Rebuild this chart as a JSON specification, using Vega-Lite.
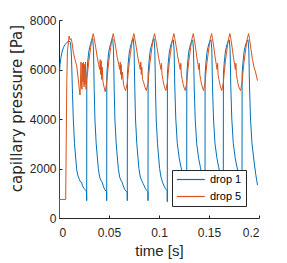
{
  "$schema": "https://vega.github.io/schema/vega-lite/v6.json",
  "width": 200,
  "height": 198,
  "autosize": "none",
  "padding": {"left": 59, "top": 20, "right": 28, "bottom": 45},
  "background": "white",
  "config": {
    "font": "Liberation Sans",
    "view": {"stroke": null},
    "axis": {
      "grid": false,
      "domainColor": "#262626",
      "tickColor": "#262626",
      "labelColor": "#262626",
      "titleColor": "#262626",
      "labelFontSize": 12,
      "titleFontSize": 15,
      "titleFontWeight": "normal",
      "tickSize": -3,
      "domainWidth": 1,
      "tickWidth": 1
    }
  },
  "datasets": {
    "d1": [
      {"t":0,"p":700},{"t":0.0003,"p":5700},{"t":0.001,"p":6200},{"t":0.002,"p":6500},{"t":0.003,"p":6700},{"t":0.0045,"p":6900},{"t":0.006,"p":7000},{"t":0.008,"p":7100},{"t":0.010,"p":7150},{"t":0.0115,"p":7100},{"t":0.0125,"p":6500},{"t":0.0135,"p":5000},{"t":0.0143,"p":4000},{"t":0.0155,"p":3000},{"t":0.0177,"p":1950},{"t":0.019,"p":1700},{"t":0.0205,"p":1550},{"t":0.021,"p":1480},{"t":0.0225,"p":1450},{"t":0.0235,"p":1300},{"t":0.025,"p":1200},{"t":0.027,"p":1100},{"t":0.0275,"p":1050},{"t":0.0277,"p":700},
      {"t":0.0278,"p":5800},{"t":0.0287,"p":6300},{"t":0.0297,"p":6700},{"t":0.0307,"p":6900},{"t":0.0317,"p":7050},{"t":0.0327,"p":7200},{"t":0.0337,"p":7250},{"t":0.0345,"p":6800},{"t":0.0352,"p":5200},{"t":0.0359,"p":4000},{"t":0.0372,"p":3000},{"t":0.0393,"p":2000},{"t":0.0407,"p":1650},{"t":0.0422,"p":1500},{"t":0.0432,"p":1450},{"t":0.0442,"p":1300},{"t":0.0457,"p":1150},{"t":0.0472,"p":1080},{"t":0.0476,"p":1050},{"t":0.0477,"p":700},
      {"t":0.0478,"p":5800},{"t":0.0487,"p":6300},{"t":0.0497,"p":6700},{"t":0.0507,"p":6900},{"t":0.0517,"p":7050},{"t":0.0527,"p":7200},{"t":0.0537,"p":7250},{"t":0.0545,"p":6800},{"t":0.0552,"p":5200},{"t":0.0559,"p":4000},{"t":0.0572,"p":3000},{"t":0.0593,"p":2000},{"t":0.0607,"p":1650},{"t":0.0622,"p":1500},{"t":0.0632,"p":1450},{"t":0.0642,"p":1300},{"t":0.0657,"p":1150},{"t":0.0672,"p":1080},{"t":0.0682,"p":1050},{"t":0.0683,"p":700},
      {"t":0.0684,"p":5800},{"t":0.0693,"p":6300},{"t":0.0703,"p":6700},{"t":0.0713,"p":6900},{"t":0.0723,"p":7050},{"t":0.0733,"p":7200},{"t":0.0743,"p":7250},{"t":0.0751,"p":6800},{"t":0.0758,"p":5200},{"t":0.0765,"p":4000},{"t":0.0778,"p":3000},{"t":0.0799,"p":2000},{"t":0.0813,"p":1650},{"t":0.0828,"p":1500},{"t":0.0840,"p":1400},{"t":0.0852,"p":1300},{"t":0.0865,"p":1180},{"t":0.0880,"p":1100},{"t":0.0889,"p":1060},{"t":0.0890,"p":700},
      {"t":0.0891,"p":5800},{"t":0.0900,"p":6300},{"t":0.0910,"p":6700},{"t":0.0920,"p":6900},{"t":0.0930,"p":7050},{"t":0.0940,"p":7200},{"t":0.0950,"p":7250},{"t":0.0958,"p":6800},{"t":0.0965,"p":5200},{"t":0.0972,"p":4000},{"t":0.0985,"p":3000},{"t":0.1006,"p":2000},{"t":0.1020,"p":1650},{"t":0.1035,"p":1450},{"t":0.1050,"p":1300},{"t":0.1065,"p":1180},{"t":0.1078,"p":1120},{"t":0.1082,"p":1100},{"t":0.1083,"p":660},
      {"t":0.1084,"p":5800},{"t":0.1093,"p":6300},{"t":0.1103,"p":6700},{"t":0.1113,"p":6900},{"t":0.1123,"p":7050},{"t":0.1133,"p":7150},{"t":0.1143,"p":7200},{"t":0.1151,"p":6800},{"t":0.1158,"p":5300},{"t":0.1168,"p":4000},{"t":0.1183,"p":3000},{"t":0.1203,"p":2400},{"t":0.1220,"p":2050},{"t":0.1238,"p":1750},{"t":0.1253,"p":1550},{"t":0.1268,"p":1400},{"t":0.1276,"p":1300},{"t":0.1277,"p":900},
      {"t":0.1278,"p":5800},{"t":0.1287,"p":6300},{"t":0.1297,"p":6700},{"t":0.1307,"p":6900},{"t":0.1317,"p":7050},{"t":0.1327,"p":7150},{"t":0.1337,"p":7200},{"t":0.1345,"p":6800},{"t":0.1352,"p":5300},{"t":0.1362,"p":4000},{"t":0.1377,"p":3000},{"t":0.1397,"p":2400},{"t":0.1414,"p":2050},{"t":0.1430,"p":1750},{"t":0.1445,"p":1550},{"t":0.1459,"p":1400},{"t":0.1460,"p":900},
      {"t":0.1461,"p":5800},{"t":0.1470,"p":6300},{"t":0.1480,"p":6700},{"t":0.1490,"p":6900},{"t":0.1500,"p":7050},{"t":0.1510,"p":7150},{"t":0.1520,"p":7200},{"t":0.1528,"p":6800},{"t":0.1535,"p":5300},{"t":0.1545,"p":4000},{"t":0.1560,"p":3000},{"t":0.1580,"p":2400},{"t":0.1597,"p":2050},{"t":0.1613,"p":1750},{"t":0.1628,"p":1550},{"t":0.1642,"p":1400},{"t":0.1643,"p":900},
      {"t":0.1644,"p":5800},{"t":0.1653,"p":6300},{"t":0.1663,"p":6700},{"t":0.1673,"p":6900},{"t":0.1683,"p":7050},{"t":0.1693,"p":7150},{"t":0.1703,"p":7200},{"t":0.1711,"p":6800},{"t":0.1718,"p":5300},{"t":0.1728,"p":4000},{"t":0.1743,"p":3000},{"t":0.1763,"p":2400},{"t":0.1780,"p":2050},{"t":0.1797,"p":1750},{"t":0.1812,"p":1550},{"t":0.1829,"p":1400},{"t":0.1830,"p":900},
      {"t":0.1831,"p":5800},{"t":0.1840,"p":6300},{"t":0.1850,"p":6700},{"t":0.1860,"p":6900},{"t":0.1870,"p":7050},{"t":0.1880,"p":7150},{"t":0.1890,"p":7200},{"t":0.1898,"p":6800},{"t":0.1905,"p":5300},{"t":0.1915,"p":4000},{"t":0.1930,"p":3000},{"t":0.1950,"p":2300},{"t":0.1968,"p":1750},{"t":0.1985,"p":1330}
    ],
    "d5": [
      {"t":0,"p":0},{"t":0.0002,"p":750},{"t":0.0067,"p":750},{"t":0.0072,"p":3000},{"t":0.0078,"p":5500},{"t":0.0085,"p":6800},{"t":0.0095,"p":7100},{"t":0.010,"p":7350},{"t":0.011,"p":7200},{"t":0.012,"p":7250},{"t":0.013,"p":7100},{"t":0.0143,"p":6700},{"t":0.016,"p":6400},{"t":0.0177,"p":6150},{"t":0.019,"p":5700},{"t":0.020,"p":5300},{"t":0.021,"p":4970},{"t":0.0215,"p":5500},{"t":0.022,"p":6300},{"t":0.0225,"p":5400},{"t":0.023,"p":5200},{"t":0.0235,"p":6250},{"t":0.024,"p":5500},{"t":0.0245,"p":6300},{"t":0.025,"p":5300},{"t":0.0255,"p":6200},{"t":0.026,"p":5400},{"t":0.0265,"p":6300},{"t":0.027,"p":5200},{"t":0.0277,"p":5600},
      {"t":0.0287,"p":5900},{"t":0.0297,"p":6300},{"t":0.0307,"p":6600},{"t":0.0317,"p":6900},{"t":0.0327,"p":7200},{"t":0.0343,"p":7450},{"t":0.0352,"p":7250},{"t":0.0367,"p":6900},{"t":0.0382,"p":6500},{"t":0.0397,"p":6200},{"t":0.0407,"p":6000},{"t":0.0412,"p":6400},{"t":0.0417,"p":5800},{"t":0.0422,"p":6350},{"t":0.0427,"p":5600},{"t":0.0432,"p":6100},{"t":0.0440,"p":5500},{"t":0.0450,"p":5300},{"t":0.0462,"p":5100},{"t":0.0477,"p":5450},
      {"t":0.0487,"p":5900},{"t":0.0497,"p":6300},{"t":0.0507,"p":6600},{"t":0.0517,"p":6900},{"t":0.0527,"p":7200},{"t":0.0543,"p":7450},{"t":0.0552,"p":7250},{"t":0.0567,"p":6900},{"t":0.0582,"p":6500},{"t":0.0597,"p":6200},{"t":0.0607,"p":6000},{"t":0.0612,"p":6300},{"t":0.0617,"p":5800},{"t":0.0622,"p":6200},{"t":0.0627,"p":5600},{"t":0.0635,"p":5900},{"t":0.0645,"p":5400},{"t":0.0655,"p":5250},{"t":0.0666,"p":5150},{"t":0.0683,"p":5450},
      {"t":0.0693,"p":5900},{"t":0.0703,"p":6300},{"t":0.0713,"p":6600},{"t":0.0723,"p":6900},{"t":0.0733,"p":7200},{"t":0.0749,"p":7450},{"t":0.0758,"p":7250},{"t":0.0773,"p":6900},{"t":0.0788,"p":6500},{"t":0.0803,"p":6200},{"t":0.0813,"p":6000},{"t":0.0818,"p":6300},{"t":0.0823,"p":5800},{"t":0.0828,"p":6100},{"t":0.0835,"p":5600},{"t":0.0845,"p":5500},{"t":0.0858,"p":5300},{"t":0.0873,"p":5150},{"t":0.0890,"p":5450},
      {"t":0.0900,"p":5900},{"t":0.0910,"p":6300},{"t":0.0920,"p":6600},{"t":0.0930,"p":6900},{"t":0.0940,"p":7200},{"t":0.0956,"p":7450},{"t":0.0965,"p":7250},{"t":0.0980,"p":6900},{"t":0.0995,"p":6500},{"t":0.1010,"p":6200},{"t":0.1020,"p":6000},{"t":0.1025,"p":6250},{"t":0.1030,"p":5800},{"t":0.1038,"p":5600},{"t":0.1048,"p":5400},{"t":0.1058,"p":5250},{"t":0.1068,"p":5150},{"t":0.1083,"p":5450},
      {"t":0.1093,"p":5900},{"t":0.1103,"p":6300},{"t":0.1113,"p":6600},{"t":0.1123,"p":6900},{"t":0.1133,"p":7200},{"t":0.1149,"p":7450},{"t":0.1158,"p":7250},{"t":0.1173,"p":6900},{"t":0.1188,"p":6500},{"t":0.1203,"p":6200},{"t":0.1213,"p":6000},{"t":0.1218,"p":6250},{"t":0.1223,"p":5800},{"t":0.1232,"p":5600},{"t":0.1242,"p":5400},{"t":0.1252,"p":5250},{"t":0.1262,"p":5150},{"t":0.1277,"p":5450},
      {"t":0.1287,"p":5900},{"t":0.1297,"p":6300},{"t":0.1307,"p":6600},{"t":0.1317,"p":6900},{"t":0.1327,"p":7200},{"t":0.1343,"p":7450},{"t":0.1352,"p":7250},{"t":0.1365,"p":6900},{"t":0.1378,"p":6500},{"t":0.1390,"p":6200},{"t":0.1398,"p":6000},{"t":0.1403,"p":6250},{"t":0.1408,"p":5800},{"t":0.1416,"p":5600},{"t":0.1426,"p":5400},{"t":0.1436,"p":5250},{"t":0.1445,"p":5150},{"t":0.1460,"p":5450},
      {"t":0.1470,"p":5900},{"t":0.1480,"p":6300},{"t":0.1490,"p":6600},{"t":0.1500,"p":6900},{"t":0.1510,"p":7200},{"t":0.1526,"p":7450},{"t":0.1535,"p":7250},{"t":0.1548,"p":6900},{"t":0.1561,"p":6500},{"t":0.1573,"p":6200},{"t":0.1581,"p":6000},{"t":0.1586,"p":6250},{"t":0.1591,"p":5800},{"t":0.1599,"p":5600},{"t":0.1609,"p":5400},{"t":0.1619,"p":5250},{"t":0.1628,"p":5150},{"t":0.1643,"p":5450},
      {"t":0.1653,"p":5900},{"t":0.1663,"p":6300},{"t":0.1673,"p":6600},{"t":0.1683,"p":6900},{"t":0.1693,"p":7200},{"t":0.1709,"p":7450},{"t":0.1718,"p":7250},{"t":0.1731,"p":6900},{"t":0.1744,"p":6500},{"t":0.1756,"p":6200},{"t":0.1764,"p":6000},{"t":0.1769,"p":6250},{"t":0.1774,"p":5800},{"t":0.1782,"p":5600},{"t":0.1792,"p":5400},{"t":0.1802,"p":5250},{"t":0.1815,"p":5150},{"t":0.1830,"p":5450},
      {"t":0.1840,"p":5900},{"t":0.1850,"p":6300},{"t":0.1860,"p":6600},{"t":0.1870,"p":6900},{"t":0.1880,"p":7200},{"t":0.1896,"p":7450},{"t":0.1905,"p":7250},{"t":0.1920,"p":6800},{"t":0.1935,"p":6400},{"t":0.1950,"p":6100},{"t":0.1965,"p":5900},{"t":0.1985,"p":5550}
    ]
  },
  "encoding": {
    "x": {"field": "t", "type": "quantitative", "scale": {"domain": [0, 0.2], "nice": false},
      "axis": {"title": "time [s]", "values": [0, 0.05, 0.1, 0.15, 0.2], "format": "~g", "labelPadding": 12, "titlePadding": 5}},
    "y": {"field": "p", "type": "quantitative", "scale": {"domain": [0, 8000], "nice": false},
      "axis": {"title": "capillary pressure [Pa]", "titleFont": "DejaVu Sans", "titleFontSize": 15, "titleY": 88, "values": [0, 2000, 4000, 6000, 8000], "format": "d", "labelPadding": 6, "titlePadding": 5}},
    "color": {"scale": {"domain": ["drop 1", "drop 5"], "range": ["#0072BD", "#D95319"]},
      "legend": {"title": null, "orient": "none", "legendX": 113, "legendY": 150, "fillColor": "white", "strokeColor": "#262626", "padding": 4, "labelFontSize": 11, "labelColor": "#000000", "symbolType": "M-1,0H5", "symbolSize": 87, "symbolStrokeWidth": 1.2, "rowPadding": 5, "labelOffset": 23}}
  },
  "layer": [
    {"data": {"name": "d1"}, "mark": {"type": "line", "strokeWidth": 1, "clip": true}, "encoding": {"color": {"datum": "drop 1"}}},
    {"data": {"name": "d5"}, "mark": {"type": "line", "strokeWidth": 1, "clip": true}, "encoding": {"color": {"datum": "drop 5"}}}
  ]
}
